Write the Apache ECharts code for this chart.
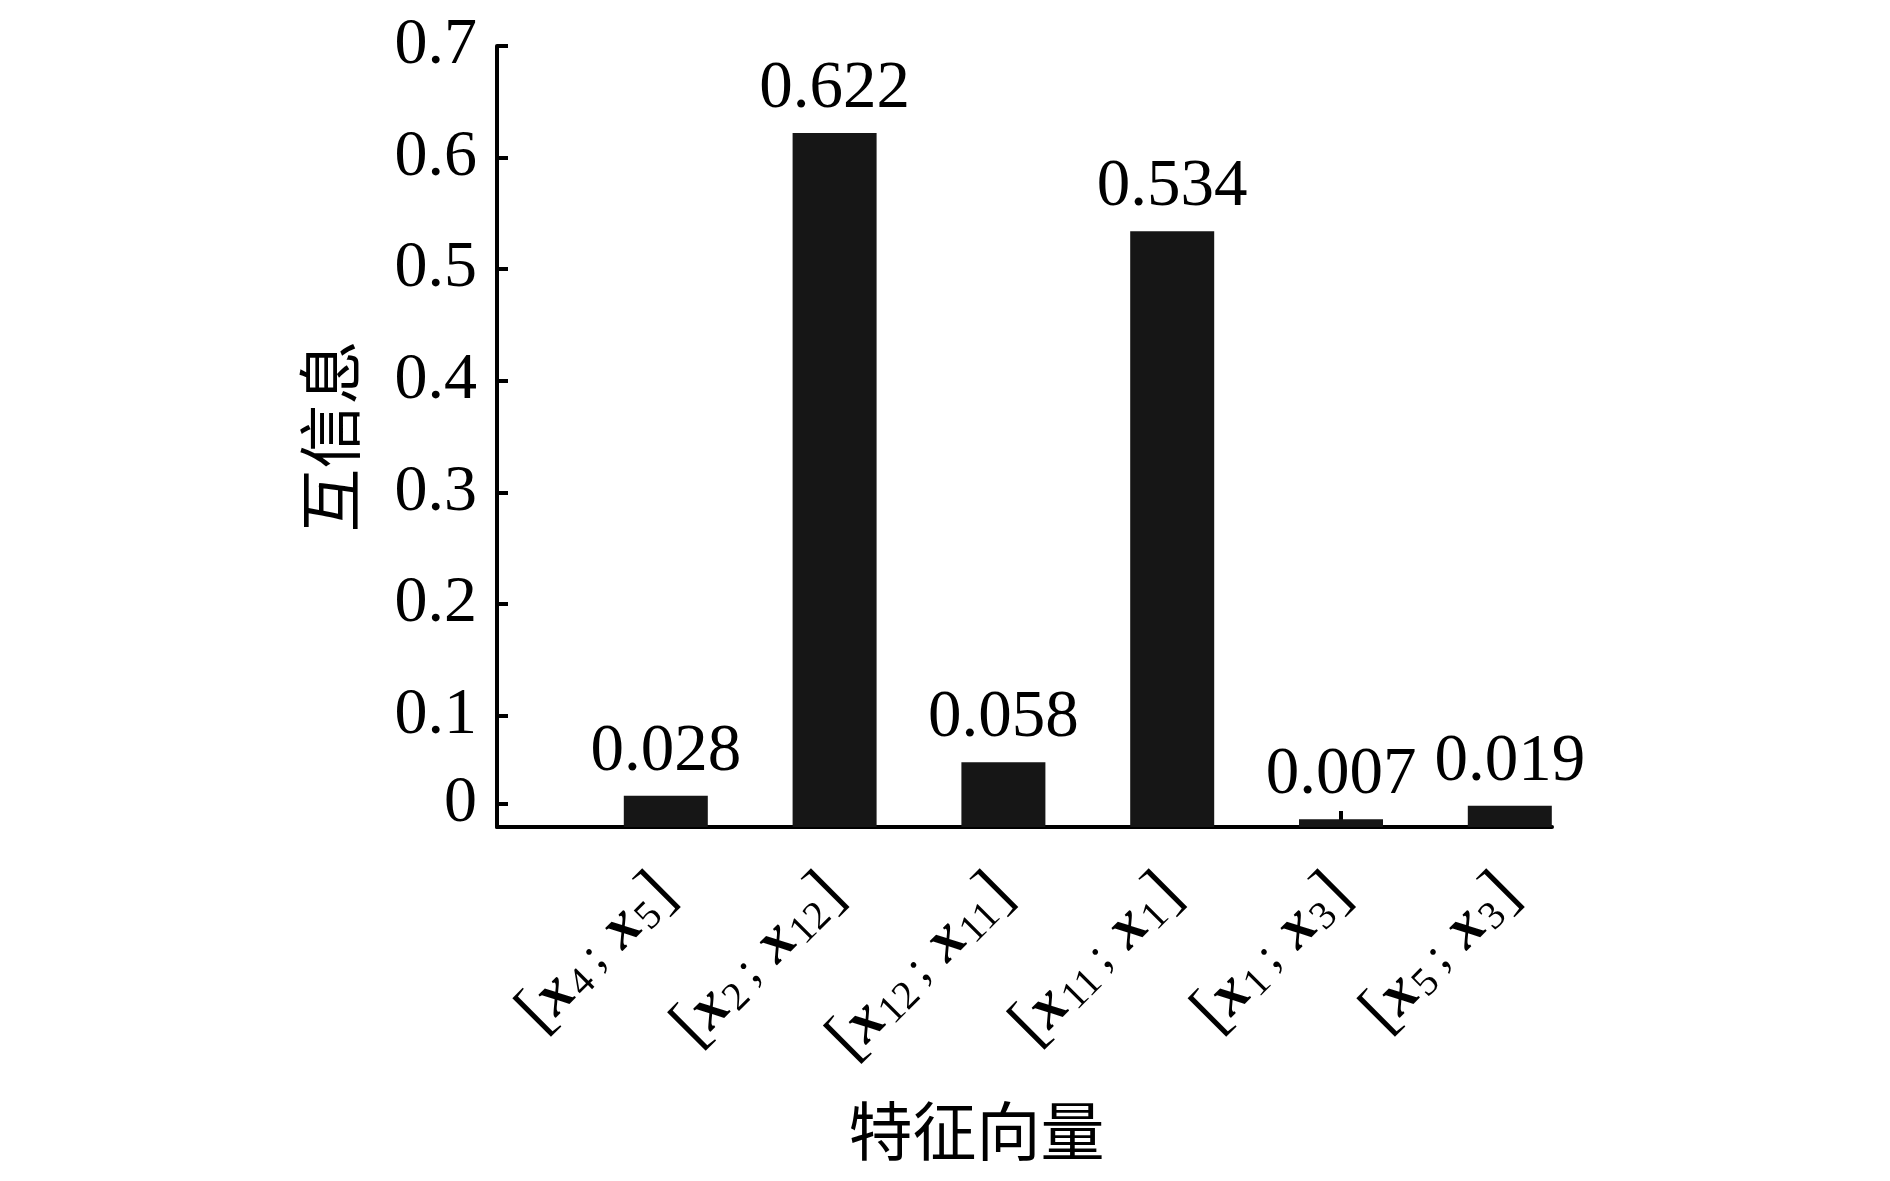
<!DOCTYPE html>
<html>
<head>
<meta charset="utf-8">
<script src="https://cdn.jsdelivr.net/npm/echarts@6/dist/echarts.min.js"></script>
<style>
  html, body { margin: 0; padding: 0; background: #fff; }
  #main { width: 1890px; height: 1181px; }
</style>
</head>
<body>
<div id="main"></div>
<script>
// feature pairs [x_a ; x_b] and their mutual information
const featureA = ['4', '2', '12', '11', '1', '5']
const featureB = ['5', '12', '11', '1', '3', '3']
const values = [0.028, 0.622, 0.058, 0.534, 0.007, 0.019]

// y tick labels as printed (the "0" label sits a little above the axis in the source)
const yTickValues = [0.021, 0.1, 0.2, 0.3, 0.4, 0.5, 0.6, 0.7]
const yTickLabels = ['0', '0.1', '0.2', '0.3', '0.4', '0.5', '0.6', '0.7']

const positions = featureA.map((v, i) => i + 1)

const serif = 'Liberation Serif'

let chart = echarts.init(document.getElementById('main'))

const option = {
  backgroundColor: '#fff',
  animation: false,
  grid: {
    left: 497,
    right: 338,
    top: 46,
    bottom: 354,
    outerBoundsMode: 'none'
  },
  xAxis: {
    type: 'value',
    min: 0,
    max: 6.25,
    interval: 1,
    name: '特征向量',
    nameLocation: 'middle',
    nameGap: 272,
    nameTextStyle: {
      fontFamily: 'Noto Sans CJK SC',
      fontSize: 64,
      color: '#000',
      padding: [0, 96, 0, 0]
    },
    splitLine: { show: false },
    axisLine: { lineStyle: { color: '#000', width: 4 } },
    axisTick: {
      inside: true,
      length: 16,
      customValues: positions,
      lineStyle: { color: '#000', width: 4 }
    },
    axisLabel: {
      customValues: positions,
      rotate: 45,
      margin: 58,
      color: '#000',
      formatter: function (v) {
        let i = Math.round(v) - 1
        if (i < 0 || i >= featureA.length) return ''
        return '{br|[}{x|x}{sub|' + featureA[i] + '}{sc|;}{x|x}{sub|' + featureB[i] + '}{br|]}'
      },
      rich: {
        br: { fontFamily: serif, fontSize: 66, color: '#000' },
        x: { fontFamily: serif, fontSize: 62, fontWeight: 'bold', fontStyle: 'italic', color: '#000' },
        sub: { fontFamily: serif, fontSize: 40, color: '#000', padding: [22, 2, 0, 2] },
        sc: { fontFamily: serif, fontSize: 48, color: '#000', padding: [0, 18, 0, 8] }
      }
    }
  },
  yAxis: {
    type: 'value',
    min: 0,
    max: 0.7,
    interval: 0.1,
    name: '互信息',
    nameLocation: 'middle',
    nameGap: 135,
    nameTextStyle: {
      fontFamily: 'Noto Sans CJK SC',
      fontSize: 64,
      color: '#000'
    },
    splitLine: { show: false },
    axisLine: { show: true, lineStyle: { color: '#000', width: 4 } },
    axisTick: {
      show: true,
      inside: true,
      length: 11,
      customValues: yTickValues,
      lineStyle: { color: '#000', width: 4 }
    },
    axisLabel: {
      customValues: yTickValues,
      margin: 20,
      color: '#000',
      fontFamily: serif,
      fontSize: 66,
      padding: [14, 0, 0, 0],
      formatter: function (v) {
        let best = 0
        yTickValues.forEach((t, i) => {
          if (Math.abs(t - v) < Math.abs(yTickValues[best] - v)) best = i
        })
        return yTickLabels[best]
      }
    }
  },
  series: [
    {
      type: 'bar',
      data: values.map((v, i) => [positions[i], v]),
      barWidth: 84,
      itemStyle: { color: '#161616' },
      label: {
        show: true,
        position: 'top',
        distance: 10,
        color: '#000',
        fontFamily: serif,
        fontSize: 67,
        formatter: p => p.value[1].toFixed(3)
      }
    }
  ]
}

chart.setOption(option)
</script>
</body>
</html>
